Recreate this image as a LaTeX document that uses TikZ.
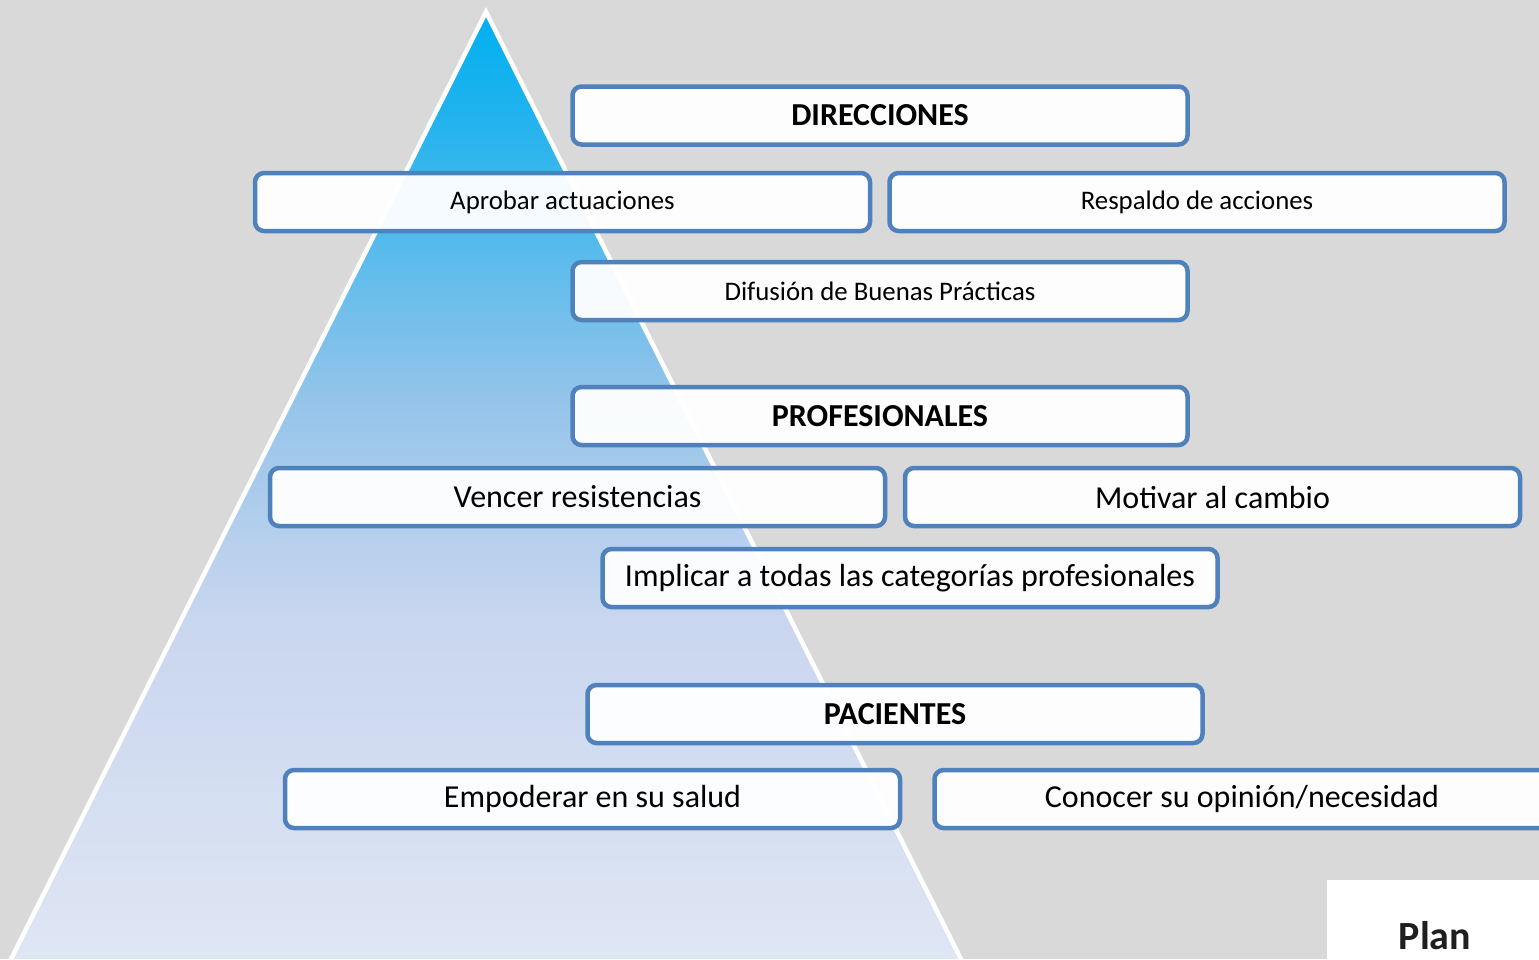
\documentclass[tikz,border=0pt]{standalone}
\usepackage{fontspec}
\setmainfont{Carlito}
\usepackage{tikz}
\usetikzlibrary{positioning, shapes, calc}
\definecolor{bgcolor}{RGB}{217,217,217}
\definecolor{boxline}{RGB}{79,129,189}
\definecolor{pyrtop}{RGB}{0,176,240}
\definecolor{pyrA}{RGB}{31,178,238}
\definecolor{pyrB}{RGB}{92,188,236}
\definecolor{pyrC}{RGB}{149,196,234}
\definecolor{pyrD}{RGB}{201,214,239}
\definecolor{pyrbot}{RGB}{223,230,244}
\pgfdeclareverticalshading{pyrshade}{100bp}{color(0bp)=(pyrbot); color(25bp)=(pyrbot); color(42.9bp)=(pyrD); color(54.5bp)=(pyrC); color(61.9bp)=(pyrB); color(69.8bp)=(pyrA); color(75bp)=(pyrtop); color(100bp)=(pyrtop)}

\begin{document}
\begin{tikzpicture}[
    x=1pt, y=-1pt,
    block/.style={draw=boxline, line width=4.5pt, rounded corners=9pt, fill=white, fill opacity=0.95, text opacity=1,
        minimum width=615pt, minimum height=58pt, inner sep=0pt, font=\fontsize{26.8}{32}\selectfont},
    bigblock/.style={block, font=\fontsize{32}{38}\selectfont},
    head/.style={block, font=\bfseries\fontsize{32}{38}\selectfont},
    pyredge/.style={white, line width=4.5pt, line cap=round}
]
    \useasboundingbox (0,0) rectangle (1539,959);
    \clip (0,0) rectangle (1539,959);
    \fill[bgcolor] (0,0) rectangle (1539,959);

    % Pyramid
    \coordinate (apex) at (486,12);
    \coordinate (baseL) at (-2,985);
    \coordinate (baseR) at (974,985);
    \shade[shading=pyrshade] (apex) -- (12,959) -- (960,959) -- cycle;
    \draw[pyredge] (baseL) -- (apex) -- (baseR);

    % Direcciones
    \node[head] (dir) at (880,115.5) {DIRECCIONES};
    \node[block] (aprobar) at (562.5,202) {Aprobar actuaciones};
    \node[block] (respaldo) at (1197,202) {Respaldo de acciones};
    \node[block] (difusion) at (880,291) {Difusión de Buenas Prácticas};

    % Profesionales
    \node[head] (prof) at (880,416) {PROFESIONALES};
    \node[bigblock] (vencer) at (577.5,497) {Vencer resistencias};
    \node[bigblock] (motivar) at (1212.5,497) {Motivar al cambio};
    \node[bigblock] (implicar) at (910,578) {Implicar a todas las categorías profesionales};

    % Pacientes
    \node[head] (pac) at (895,714) {PACIENTES};
    \node[bigblock] (empoderar) at (592.5,799) {Empoderar en su salud};
    \node[bigblock] (conocer) at (1242,799) {Conocer su opinión/necesidad};

    % Corner card
    \fill[white] (1327,880) rectangle (1545,965);
    \node[font=\bfseries\fontsize{40}{44}\selectfont, text=black!88] (plan) at (1435,936) {Plan};
\end{tikzpicture}
\end{document}
